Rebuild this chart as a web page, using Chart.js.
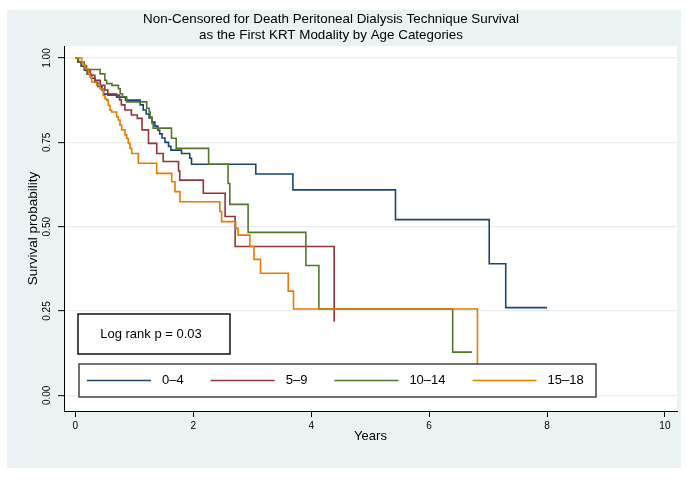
<!DOCTYPE html>
<html>
<head>
<meta charset="utf-8">
<script src="https://cdn.jsdelivr.net/npm/chart.js@4.4.1/dist/chart.umd.min.js"></script>
<style>
  html, body { margin: 0; padding: 0; background: #ffffff; }
  #wrap { width: 687px; height: 504px; }
</style>
</head>
<body>
<div id="wrap"><canvas id="km" width="687" height="504"></canvas></div>
<script>
// Kaplan–Meier technique survival by age category (years since PD start)
const titleLines = [
  'Non-Censored for Death Peritoneal Dialysis Technique Survival',
  'as the First KRT Modality by Age Categories'
];
const xAxisTitle = 'Years';
const yAxisTitle = 'Survival probability';
const logRankText = 'Log rank p = 0.03';

const ageGroups = ['0–4', '5–9', '10–14', '15–18'];
const seriesColors = ['#1A476F', '#90353B', '#55752F', '#E37E00'];

const xTickValues = [0, 2, 4, 6, 8, 10];
const xTickLabels = ['0', '2', '4', '6', '8', '10'];
const yTickValues = [0, 0.25, 0.5, 0.75, 1];
const yTickLabels = ['0.00', '0.25', '0.50', '0.75', '1.00'];

// event times (years) and survival estimate after each step
const years0to4 = [0, 0.04, 0.10, 0.15, 0.20, 0.27, 0.33, 0.38, 0.45, 0.48, 0.70, 0.85, 1.10, 1.15, 1.20, 1.25, 1.30, 1.35, 1.40, 1.43, 1.47, 1.52, 1.58, 1.62, 1.80, 1.94, 1.97, 3.06, 3.69, 5.43, 7.02, 7.30, 8.00];
const surv0to4  = [1, 0.988, 0.976, 0.964, 0.952, 0.940, 0.928, 0.916, 0.905, 0.893, 0.884, 0.875, 0.861, 0.846, 0.834, 0.822, 0.810, 0.798, 0.786, 0.775, 0.763, 0.750, 0.738, 0.727, 0.717, 0.703, 0.685, 0.656, 0.609, 0.521, 0.390, 0.260, 0.260];

const years5to9 = [0, 0.05, 0.10, 0.18, 0.25, 0.33, 0.42, 0.50, 0.55, 0.75, 0.78, 0.84, 0.95, 1.05, 1.13, 1.24, 1.38, 1.49, 1.75, 1.77, 2.17, 2.54, 2.71, 4.39];
const surv5to9  = [1, 0.988, 0.978, 0.963, 0.949, 0.934, 0.919, 0.905, 0.890, 0.876, 0.861, 0.846, 0.831, 0.821, 0.787, 0.747, 0.717, 0.693, 0.665, 0.638, 0.599, 0.530, 0.441, 0.218];

const years10to14 = [0, 0.05, 0.15, 0.19, 0.42, 0.50, 0.53, 0.62, 0.73, 0.76, 0.80, 0.87, 1.21, 1.25, 1.27, 1.30, 1.32, 1.63, 1.71, 2.26, 2.59, 2.62, 2.93, 3.91, 4.13, 6.40, 6.73];
const surv10to14  = [1, 0.988, 0.977, 0.966, 0.953, 0.934, 0.924, 0.919, 0.909, 0.894, 0.885, 0.870, 0.851, 0.840, 0.825, 0.806, 0.792, 0.762, 0.732, 0.685, 0.628, 0.566, 0.483, 0.385, 0.256, 0.128, 0.128];

const years15to18 = [0, 0.107, 0.134, 0.163, 0.219, 0.248, 0.277, 0.361, 0.417, 0.473, 0.502, 0.531, 0.558, 0.587, 0.616, 0.700, 0.728, 0.757, 0.785, 0.841, 0.870, 0.897, 0.926, 0.955, 1.067, 1.379, 1.634, 1.690, 1.774, 2.450, 2.480, 2.720, 2.760, 2.960, 3.030, 3.140, 3.610, 3.700, 6.820];
const surv15to18  = [1, 0.988, 0.978, 0.968, 0.953, 0.944, 0.929, 0.919, 0.909, 0.889, 0.879, 0.875, 0.860, 0.845, 0.840, 0.826, 0.816, 0.801, 0.787, 0.772, 0.762, 0.747, 0.732, 0.717, 0.688, 0.658, 0.633, 0.604, 0.574, 0.545, 0.515, 0.495, 0.475, 0.441, 0.403, 0.362, 0.309, 0.256, 0];

const seriesYears = [years0to4, years5to9, years10to14, years15to18];
const seriesSurv = [surv0to4, surv5to9, surv10to14, surv15to18];

const FONT = '"Liberation Sans", Arial, Helvetica, sans-serif';

const datasets = ageGroups.map((name, i) => ({
  label: name,
  data: seriesYears[i].map((t, k) => ({ x: t, y: seriesSurv[i][k] })),
  borderColor: seriesColors[i],
  borderWidth: 1.6,
  pointRadius: 0,
  fill: false,
  stepped: 'before',
  order: ageGroups.length - 1 - i
}));

// page background, title and white plot region
const backdrop = {
  id: 'backdrop',
  beforeDraw(chart) {
    const { ctx, chartArea: a } = chart;
    ctx.save();
    ctx.fillStyle = '#ffffff';
    ctx.fillRect(0, 0, chart.width, chart.height);
    ctx.fillStyle = '#EAF2F3';
    ctx.fillRect(7, 10, 674, 458);
    ctx.fillStyle = '#ffffff';
    ctx.fillRect(a.left, a.top, a.right - a.left, a.bottom - a.top);
    ctx.fillStyle = '#000000';
    ctx.font = '13.4px ' + FONT;
    ctx.textAlign = 'center';
    ctx.textBaseline = 'middle';
    titleLines.forEach((line, i) => ctx.fillText(line, 331, 19 + i * 16));
    ctx.restore();
  }
};

// log-rank note and the legend row, both boxed over the plot
const boxes = {
  id: 'boxes',
  afterDatasetsDraw(chart) {
    const { ctx, chartArea: a } = chart;
    ctx.save();
    // log-rank box
    const lx = a.left + 14, ly = 314, lw = 152, lh = 40;
    ctx.fillStyle = '#ffffff';
    ctx.fillRect(lx, ly, lw, lh);
    ctx.strokeStyle = '#111111';
    ctx.lineWidth = 1.5;
    ctx.strokeRect(lx, ly, lw, lh);
    ctx.fillStyle = '#000000';
    ctx.font = '13px ' + FONT;
    ctx.textAlign = 'center';
    ctx.textBaseline = 'middle';
    ctx.fillText(logRankText, lx + lw / 2 - 3, ly + lh / 2);

    // legend box
    const gx = a.left + 15, gy = 364, gw = 517, gh = 33;
    ctx.fillStyle = '#ffffff';
    ctx.fillRect(gx, gy, gw, gh);
    ctx.strokeStyle = '#444444';
    ctx.strokeRect(gx, gy, gw, gh);
    const cy = gy + gh / 2;
    let x = gx + 8;
    ctx.textAlign = 'left';
    chart.data.datasets.forEach(ds => {
      ctx.strokeStyle = ds.borderColor;
      ctx.lineWidth = 1.6;
      ctx.beginPath();
      ctx.moveTo(x, cy);
      ctx.lineTo(x + 64, cy);
      ctx.stroke();
      ctx.fillStyle = '#000000';
      ctx.fillText(ds.label, x + 75, cy);
      x += 75 + ctx.measureText(ds.label).width + 27;
    });
    ctx.restore();
  }
};

new Chart(document.getElementById('km'), {
  type: 'line',
  data: { datasets },
  plugins: [backdrop, boxes],
  options: {
    responsive: false,
    animation: false,
    devicePixelRatio: 1,
    layout: { padding: { left: 0, right: 10, top: 46, bottom: 0 } },
    plugins: { legend: { display: false }, tooltip: { enabled: false }, title: { display: false } },
    scales: {
      x: {
        type: 'linear',
        min: -0.193,
        max: 10.205,
        afterFit: s => { s.height = 93; },
        afterBuildTicks: s => { s.ticks = xTickValues.map(v => ({ value: v })); },
        grid: { drawOnChartArea: false, drawTicks: true, tickLength: 6, tickColor: '#000000', tickWidth: 1 },
        border: { display: true, color: '#000000', width: 1 },
        ticks: {
          color: '#000000',
          font: { family: FONT, size: 10 },
          padding: 3,
          maxRotation: 0,
          callback: v => xTickLabels[xTickValues.indexOf(v)]
        },
        title: { display: true, text: xAxisTitle, color: '#000000', font: { family: FONT, size: 13 }, padding: { top: 0, bottom: 60 } }
      },
      y: {
        type: 'linear',
        min: -0.0465,
        max: 1.0356,
        afterFit: s => { s.width = 64; },
        afterBuildTicks: s => { s.ticks = yTickValues.map(v => ({ value: v })); },
        grid: { color: '#E6EEF0', lineWidth: 1.3, drawTicks: true, tickLength: 6, tickColor: '#000000', tickWidth: 1 },
        border: { display: true, color: '#000000', width: 1 },
        ticks: {
          color: '#000000',
          font: { family: FONT, size: 10 },
          minRotation: 90,
          maxRotation: 90,
          crossAlign: 'center',
          padding: 1,
          callback: v => yTickLabels[yTickValues.indexOf(v)]
        },
        title: { display: true, text: yAxisTitle, color: '#000000', font: { family: FONT, size: 13.5 }, padding: { top: 25, bottom: 0 } }
      }
    }
  }
});
</script>
</body>
</html>
